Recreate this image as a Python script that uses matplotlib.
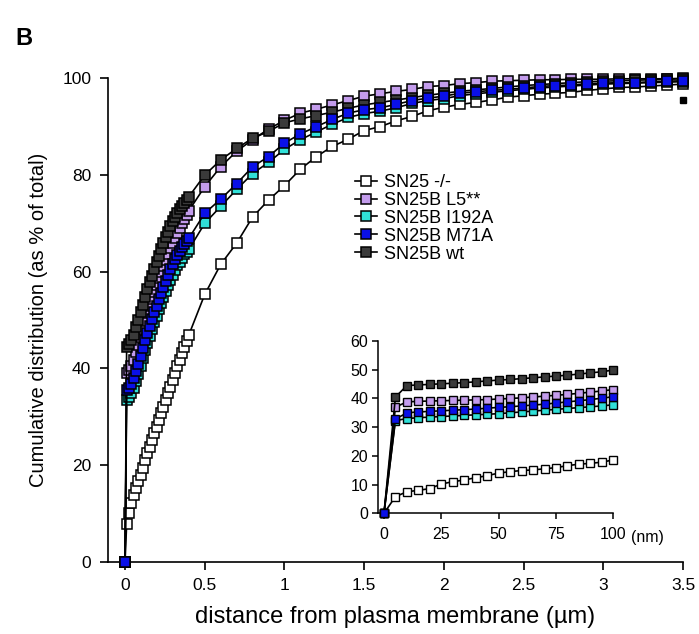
import numpy as np
import matplotlib
matplotlib.use("Agg")
import matplotlib.pyplot as plt

plt.rcParams["font.family"] = ["Liberation Sans", "DejaVu Sans"]

# ---- main panel data (distance in um, cumulative %) ----
x_dense = [0.010, 0.024, 0.039, 0.053, 0.068, 0.082, 0.097, 0.111, 0.126, 0.140,
           0.154, 0.169, 0.183, 0.198, 0.212, 0.227, 0.241, 0.256, 0.270, 0.284,
           0.299, 0.313, 0.328, 0.342, 0.357, 0.371, 0.386, 0.400]
x_coarse = [0.5, 0.6, 0.7, 0.8, 0.9, 1.0, 1.1, 1.2, 1.3, 1.4, 1.5, 1.6, 1.7, 1.8,
            1.9, 2.0, 2.1, 2.2, 2.3, 2.4, 2.5, 2.6, 2.7, 2.8, 2.9, 3.0, 3.1, 3.2,
            3.3, 3.4, 3.5]
x_main = [0.0] + x_dense + x_coarse

ko_main = [0.0,
           7.8, 10.1, 12.2, 13.8, 15.2, 16.6, 17.9, 19.3, 21.0, 22.4,
           23.8, 25.2, 26.7, 27.9, 29.3, 30.7, 32.1, 33.5, 34.8, 36.2,
           37.6, 39.0, 40.4, 41.7, 43.1, 44.5, 45.7, 46.9,
           55.3, 61.5, 65.9, 71.3, 74.8, 77.8, 81.2, 83.8, 85.9, 87.4,
           89.2, 90.0, 91.2, 92.1, 93.3, 94.0, 94.6, 95.0, 95.5, 96.1,
           96.4, 96.7, 96.9, 97.1, 97.5, 97.8, 98.1, 98.2, 98.4, 98.6, 98.8]
l5_main = [0.0,
           39.0, 39.6, 40.5, 41.8, 43.3, 44.9, 46.5, 48.2, 49.8, 51.4,
           52.9, 54.4, 55.8, 57.2, 58.6, 59.9, 61.2, 62.5, 63.7, 64.9,
           66.0, 67.0, 68.0, 69.0, 70.0, 70.9, 71.8, 72.6,
           77.6, 81.7, 84.9, 87.3, 89.5, 91.3, 92.8, 93.6, 94.5, 95.4,
           96.3, 96.8, 97.3, 97.7, 98.3, 98.5, 98.9, 99.1, 99.4, 99.5,
           99.6, 99.7, 99.7, 99.8, 99.8, 99.8, 99.9, 99.9, 99.9, 99.9, 100.0]
i192a_main = [0.0,
              33.5, 34.0, 34.8, 35.9, 37.4, 38.9, 40.5, 42.1, 43.7, 45.3,
              46.7, 48.1, 49.5, 50.9, 52.2, 53.5, 54.8, 56.0, 57.2, 58.3,
              59.4, 60.4, 61.3, 62.1, 62.9, 63.6, 64.1, 64.6,
              70.0, 73.5, 77.0, 80.3, 82.6, 85.3, 87.3, 88.9, 90.5, 91.9,
              92.7, 93.2, 93.9, 94.8, 95.4, 95.8, 96.4, 96.8, 97.1, 97.4,
              97.7, 98.0, 98.2, 98.4, 98.6, 98.8, 98.9, 99.0, 99.1, 99.2, 99.3]
m71a_main = [0.0,
             35.5, 36.0, 36.8, 38.0, 39.5, 41.0, 42.6, 44.2, 45.8, 47.4,
             48.8, 50.2, 51.6, 53.0, 54.3, 55.6, 56.9, 58.1, 59.3, 60.5,
             61.6, 62.6, 63.5, 64.3, 65.0, 65.7, 66.3, 66.9,
             72.1, 75.0, 78.2, 81.7, 83.8, 86.6, 88.5, 90.0, 91.5, 92.8,
             93.5, 93.9, 94.6, 95.4, 95.9, 96.3, 96.9, 97.2, 97.5, 97.7,
             98.0, 98.3, 98.5, 98.6, 98.9, 99.0, 99.1, 99.1, 99.3, 99.4, 99.5]
wt_main = [0.0,
           44.5, 45.0, 45.8, 47.0, 48.5, 50.0, 51.6, 53.2, 54.8, 56.4,
           57.8, 59.2, 60.6, 62.0, 63.3, 64.6, 65.9, 67.1, 68.3, 69.4,
           70.4, 71.3, 72.1, 72.9, 73.6, 74.3, 74.9, 75.5,
           80.0, 83.1, 85.5, 87.6, 89.0, 90.8, 91.6, 92.3, 93.0, 93.8,
           94.5, 95.0, 95.5, 96.0, 96.5, 96.9, 97.3, 97.6, 97.9, 98.2,
           98.5, 98.7, 98.9, 99.1, 99.3, 99.4, 99.5, 99.6, 99.7, 99.8, 99.9]

stray_x = [3.5]
stray_y = [95.6]

# ---- inset data (distance in nm) ----
x_inset = [0, 5, 10, 15, 20, 25, 30, 35, 40, 45, 50, 55, 60, 65, 70, 75, 80, 85, 90, 95, 100]
ko_inset = [0, 5.8, 7.5, 8.0, 8.6, 10.2, 11.0, 11.6, 12.4, 13.1, 14.0,
            14.5, 14.9, 15.1, 15.5, 15.9, 16.6, 17.1, 17.4, 17.8, 18.6]
l5_inset = [0, 37.0, 38.8, 39.0, 39.1, 39.2, 39.3, 39.4, 39.5, 39.6, 39.8,
            40.0, 40.2, 40.5, 40.8, 41.1, 41.4, 41.8, 42.2, 42.6, 43.1]
i192a_inset = [0, 32.3, 33.0, 33.3, 33.5, 33.7, 33.9, 34.1, 34.3, 34.5, 34.7,
               35.0, 35.3, 35.6, 35.9, 36.2, 36.5, 36.8, 37.1, 37.4, 37.8]
m71a_inset = [0, 32.8, 35.0, 35.3, 35.5, 35.7, 35.9, 36.1, 36.3, 36.6, 36.9,
              37.1, 37.4, 37.7, 38.0, 38.4, 38.8, 39.2, 39.6, 40.1, 40.6]
wt_inset = [0, 40.5, 44.5, 44.7, 44.9, 45.1, 45.3, 45.5, 45.8, 46.1, 46.4,
            46.6, 46.9, 47.2, 47.5, 47.8, 48.1, 48.5, 48.9, 49.3, 49.9]

labels = ["SN25 -/-", "SN25B L5**", "SN25B I192A", "SN25B M71A", "SN25B wt"]
colors = ["#ffffff", "#c39cec", "#30e0d8", "#0a10e8", "#3a3a3a"]
zorders = [2, 4, 3, 6, 5]

main_series = [ko_main, l5_main, i192a_main, m71a_main, wt_main]
inset_series = [ko_inset, l5_inset, i192a_inset, m71a_inset, wt_inset]

fig = plt.figure(figsize=(6.99, 6.34), dpi=100)
ax = fig.add_axes([0.1545, 0.114, 0.8226, 0.7625])

handles = []
for y, lab, c, z in zip(main_series, labels, colors, zorders):
    h, = ax.plot(x_main, y, color="black", lw=1.2, marker="s", ms=7.2,
                 mfc=c, mec="black", mew=1.1, label=lab, zorder=z, clip_on=False)
    handles.append(h)
ax.plot(stray_x, stray_y, ls="none", marker="s", ms=4, color="black", clip_on=False)

ax.set_xlim(-0.107, 3.5)
ax.set_ylim(0, 100)
ax.set_xticks([0, 0.5, 1, 1.5, 2, 2.5, 3, 3.5])
ax.set_xticklabels(["0", "0.5", "1", "1.5", "2", "2.5", "3", "3.5"])
ax.set_yticks([0, 20, 40, 60, 80, 100])
for s in ["top", "right"]:
    ax.spines[s].set_visible(False)
for s in ["left", "bottom"]:
    ax.spines[s].set_linewidth(1.2)
ax.tick_params(direction="out", length=6, width=1.2, labelsize=12.5, pad=6)
ax.set_xlabel("distance from plasma membrane (\u00b5m)", fontsize=17, labelpad=9)
ax.set_ylabel("Cumulative distribution (as % of total)", fontsize=14.5, labelpad=10)

ax.legend(handles=handles, loc="upper left", bbox_to_anchor=(355 / 699, 1 - 174 / 634),
          bbox_transform=fig.transFigure, frameon=False, fontsize=13,
          handlelength=1.2, handletextpad=0.4, labelspacing=0.05,
          borderpad=0, borderaxespad=0)

# inset
axin = fig.add_axes([0.5408, 0.1904, 0.3366, 0.2717])
for y, c, z in zip(inset_series, colors, zorders):
    axin.plot(x_inset, y, color="black", lw=1.2, marker="s", ms=5.8,
              mfc=c, mec="black", mew=1.0, zorder=z, clip_on=False)
axin.set_xlim(-2.6, 100)
axin.set_ylim(0, 60)
axin.set_xticks([0, 25, 50, 75, 100])
axin.set_yticks([0, 10, 20, 30, 40, 50, 60])
for s in ["top", "right"]:
    axin.spines[s].set_visible(False)
for s in ["left", "bottom"]:
    axin.spines[s].set_linewidth(1.1)
axin.tick_params(direction="out", length=4, width=1.1, labelsize=11.5, pad=3)
axin.tick_params(axis="x", pad=6)
axin.text(1.075, -0.14, "(nm)", transform=axin.transAxes, fontsize=11.5,
          ha="left", va="center")

fig.text(0.022, 0.94, "B", fontsize=17, fontweight="bold", ha="left", va="center")

fig.savefig("out.png", dpi=100)
